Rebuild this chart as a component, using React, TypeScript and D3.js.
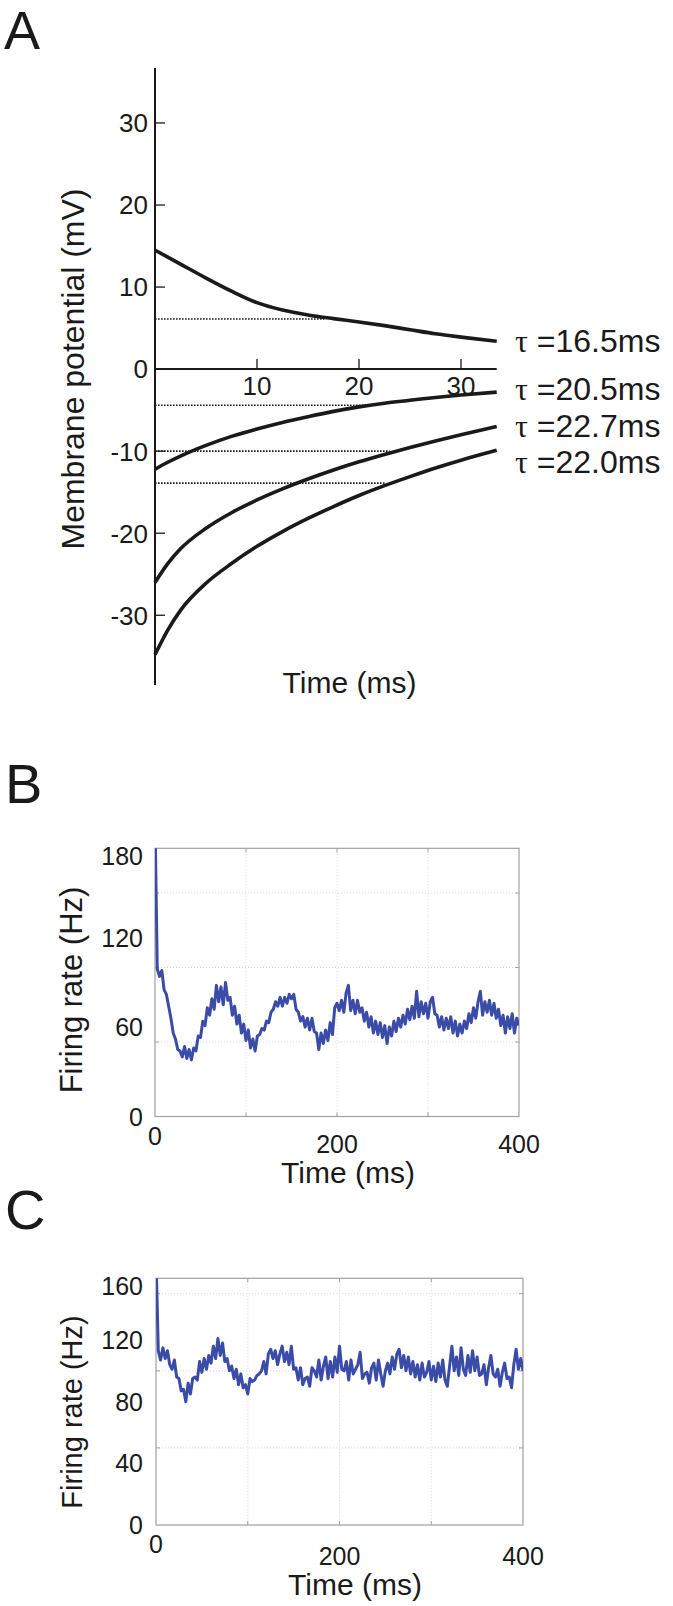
import React from 'react';
import * as d3 from 'd3';

// ---------- Panel A data ----------
const A_TIME = [0, 1.25, 2.5, 5, 7.5, 10, 12.5, 15, 17.5, 20, 22.5, 25, 27.5, 30, 33.5];
const A_CURVE_TAU165 = [14.5, 13.65, 12.8, 11.1, 9.5, 8.1, 7.2, 6.6, 6.15, 5.75, 5.3, 4.8, 4.3, 3.9, 3.4];
const A_CURVE_TAU205 = [-12.2, -11.35, -10.6, -9.3, -8.2, -7.3, -6.5, -5.8, -5.15, -4.6, -4.15, -3.8, -3.45, -3.15, -2.8];
const A_CURVE_TAU227 = [-26.0, -23.7, -21.9, -19.4, -17.5, -15.95, -14.6, -13.4, -12.3, -11.3, -10.4, -9.55, -8.75, -8.0, -7.0];
const A_CURVE_TAU220 = [-34.8, -31.8, -29.4, -26.1, -23.7, -21.6, -19.8, -18.2, -16.75, -15.4, -14.2, -13.1, -12.05, -11.1, -9.9];
const A_TAU_TEXT = ['16.5', '20.5', '22.7', '22.0'];
const A_REF_LEVEL = [6.1, -4.4, -10.0, -13.9];
const A_REF_END = [16.6, 20.7, 23.0, 22.5];
const A_Y_TICKS = [30, 20, 10, 0, -10, -20, -30];
const A_X_TICKS = [10, 20, 30];

// ---------- Panels B / C data (sampled every 2.5 ms, 0..400 ms) ----------
const SAMPLE_STEP_MS = 2.5;
const B_RATE = [
  200, 99, 94, 98, 85, 82, 74, 66, 56, 52,
  45, 44, 40, 47, 39, 45, 38, 46, 44, 54,
  53, 64, 61, 73, 68, 79, 72, 88, 77, 87,
  75, 90, 78, 80, 68, 74, 62, 68, 56, 62,
  51, 58, 46, 52, 44, 54, 55, 59, 58, 64,
  63, 70, 72, 77, 74, 80, 74, 80, 76, 82,
  79, 82, 72, 70, 64, 67, 60, 66, 58, 66,
  57, 56, 45, 56, 49, 58, 51, 63, 55, 73,
  76, 71, 78, 70, 83, 88, 71, 78, 69, 78,
  70, 73, 64, 70, 60, 67, 56, 64, 55, 63,
  53, 61, 49, 60, 54, 64, 57, 66, 60, 68,
  62, 72, 65, 74, 66, 84, 67, 77, 69, 76,
  66, 77, 80, 69, 68, 60, 67, 58, 66, 59,
  67, 56, 64, 54, 62, 56, 64, 59, 69, 63,
  73, 66, 77, 84, 68, 77, 70, 78, 68, 76,
  66, 72, 61, 68, 56, 67, 59, 69, 56, 66,
  61,
];
const C_RATE = [
  175, 113, 107, 115, 108, 113, 104, 101, 107, 96,
  95, 87, 88, 80, 92, 85, 95, 96, 94, 106,
  99, 108, 101, 110, 105, 116, 108, 121, 110, 118,
  106, 108, 100, 103, 95, 101, 91, 98, 89, 91,
  85, 95, 93, 94, 97, 98, 100, 106, 98, 111,
  114, 108, 113, 104, 111, 116, 106, 112, 104, 116,
  101, 102, 94, 102, 91, 95, 96, 90, 102, 100,
  96, 107, 94, 103, 109, 95, 106, 96, 109, 99,
  116, 101, 100, 106, 94, 107, 98, 101, 104, 112,
  95, 98, 99, 92, 102, 105, 94, 107, 98, 90,
  100, 105, 98, 109, 101, 111, 114, 102, 110, 100,
  109, 98, 106, 96, 104, 94, 105, 96, 99, 106,
  94, 103, 93, 105, 96, 107, 94, 90, 103, 116,
  100, 109, 97, 115, 101, 97, 110, 99, 113, 100,
  109, 97, 98, 104, 91, 102, 110, 98, 96, 101,
  90, 99, 105, 95, 96, 89, 104, 114, 101, 108,
  100,
];
const B_Y_LABELS = [0, 60, 120, 180];
const C_Y_LABELS = [0, 40, 80, 120, 160];
const GRID_Y = [50, 100, 150];
const GRID_X = [100, 200, 300];
const X_LABELS = [0, 200, 400];

const FONT = "'Liberation Sans', Arial, Helvetica, sans-serif";
const INK = '#1a1a1a';
const TRACE = '#3a4ca8';

function PanelA() {
  const x = d3.scaleLinear().domain([0, 33.5]).range([155, 496.7]);
  const y = d3.scaleLinear().domain([-38.5, 36.7]).range([685, 68]);
  const line = d3
    .line<number>()
    .x((_, i) => x(A_TIME[i]))
    .y((d) => y(d))
    .curve(d3.curveMonotoneX);
  const curves = [A_CURVE_TAU165, A_CURVE_TAU205, A_CURVE_TAU227, A_CURVE_TAU220];
  const labelDy = [11, 8, 10, 23];
  return (
    <g fontFamily={FONT} fill={INK}>
      <text x={4} y={49} fontSize={54}>A</text>
      {/* reference dotted lines */}
      {A_REF_LEVEL.map((v, i) => (
        <line key={'r' + i} x1={x(0)} x2={x(A_REF_END[i])} y1={y(v)} y2={y(v)}
          stroke={INK} strokeWidth={1.6} strokeDasharray="1.6 1.4" />
      ))}
      {/* axes */}
      <line x1={x(0)} x2={x(0)} y1={68} y2={685} stroke={INK} strokeWidth={2} />
      <line x1={x(0)} x2={x(33.5)} y1={y(0)} y2={y(0)} stroke={INK} strokeWidth={2} />
      {A_Y_TICKS.map((t) => (
        <g key={'yt' + t}>
          {t !== 0 && <line x1={x(0)} x2={x(0) + 10} y1={y(t)} y2={y(t)} stroke={INK} strokeWidth={1.3} />}
          <text x={148} y={y(t)} dy="0.36em" textAnchor="end" fontSize={26}>{t}</text>
        </g>
      ))}
      {A_X_TICKS.map((t) => (
        <g key={'xt' + t}>
          <line x1={x(t)} x2={x(t)} y1={y(0)} y2={y(0) - 10} stroke={INK} strokeWidth={1.3} />
          <text x={x(t)} y={395} textAnchor="middle" fontSize={26}>{t}</text>
        </g>
      ))}
      {curves.map((c, i) => (
        <path key={'c' + i} d={line(c) || ''} fill="none" stroke={INK} strokeWidth={3.6} />
      ))}
      {curves.map((c, i) => (
        <text key={'l' + i} x={515} y={y(c[c.length - 1]) + labelDy[i]} fontSize={32}>
          <tspan fontFamily="'Liberation Serif', 'DejaVu Serif', serif">τ</tspan>
          <tspan> =</tspan>
          <tspan>{A_TAU_TEXT[i]}ms</tspan>
        </text>
      ))}
      <text x={349.5} y={693} textAnchor="middle" fontSize={30}>Time (ms)</text>
      <text transform="translate(84,369) rotate(-90)" textAnchor="middle" fontSize={32}>
        Membrane potential (mV)
      </text>
    </g>
  );
}

type RateProps = {
  id: string;
  letter: string;
  letterY: number;
  data: number[];
  yMax: number;
  yLabels: number[];
  left: number;
  right: number;
  top: number;
  bottom: number;
  zeroXLabelY: number;
  xLabelY: number;
  titleX: number;
  titleY: number;
  yTitleY: number;
  yTitleSize: number;
};

function RatePanel(p: RateProps) {
  const x = d3.scaleLinear().domain([0, 400]).range([p.left, p.right]);
  const y = d3.scaleLinear().domain([0, p.yMax]).range([p.bottom, p.top]);
  const line = d3
    .line<number>()
    .x((_, i) => x(i * SAMPLE_STEP_MS))
    .y((d) => y(d));
  const tick = 4;
  const gray = '#a0a0a0';
  return (
    <g fontFamily={FONT} fill={INK}>
      <defs>
        <clipPath id={p.id}>
          <rect x={p.left} y={p.top} width={p.right - p.left} height={p.bottom - p.top} />
        </clipPath>
      </defs>
      <text x={5} y={p.letterY} fontSize={56}>{p.letter}</text>
      {GRID_Y.map((g) => (
        <g key={'gy' + g}>
          <line x1={p.left} x2={p.right} y1={y(g)} y2={y(g)} stroke="#d2d2d2" strokeWidth={0.9} strokeDasharray="1 2" />
          <line x1={p.left} x2={p.left + tick} y1={y(g)} y2={y(g)} stroke={gray} strokeWidth={1} />
          <line x1={p.right} x2={p.right - tick} y1={y(g)} y2={y(g)} stroke={gray} strokeWidth={1} />
        </g>
      ))}
      {GRID_X.map((g) => (
        <g key={'gx' + g}>
          <line x1={x(g)} x2={x(g)} y1={p.top} y2={p.bottom} stroke="#d2d2d2" strokeWidth={0.9} strokeDasharray="1 2" />
          <line x1={x(g)} x2={x(g)} y1={p.bottom} y2={p.bottom - tick} stroke={gray} strokeWidth={1} />
          <line x1={x(g)} x2={x(g)} y1={p.top} y2={p.top + tick} stroke={gray} strokeWidth={1} />
        </g>
      ))}
      <rect x={p.left} y={p.top} width={p.right - p.left} height={p.bottom - p.top}
        fill="none" stroke={gray} strokeWidth={1.2} />
      <path d={line(p.data) || ''} fill="none" stroke={TRACE} strokeWidth={3}
        strokeLinejoin="round" clipPath={`url(#${p.id})`} />
      {p.yLabels.map((v) => {
        const cy = Math.max(y(v), p.top + 8);
        return (
          <text key={'yl' + v} x={143} y={cy} dy="0.36em" textAnchor="end" fontSize={25}>{v}</text>
        );
      })}
      {X_LABELS.map((v) => (
        <text key={'xl' + v} x={x(v)} y={v === 0 ? p.zeroXLabelY : p.xLabelY} textAnchor="middle" fontSize={25}>{v}</text>
      ))}
      <text x={p.titleX} y={p.titleY} textAnchor="middle" fontSize={30}>Time (ms)</text>
      <text transform={`translate(82,${p.yTitleY}) rotate(-90)`} textAnchor="middle" fontSize={p.yTitleSize}>
        Firing rate (Hz)
      </text>
    </g>
  );
}

export default function App() {
  return (
    <svg width={673} height={1606} style={{ position: 'absolute', left: 0, top: 0, background: '#fff' }}>
      <rect x={0} y={0} width={673} height={1606} fill="#fff" />
      <PanelA />
      <RatePanel id="clipB" letter="B" letterY={803} data={B_RATE} yMax={180} yLabels={B_Y_LABELS}
        left={155} right={519} top={848.3} bottom={1116.5}
        zeroXLabelY={1145} xLabelY={1153} titleX={348} titleY={1183} yTitleY={990} yTitleSize={31} />
      <RatePanel id="clipC" letter="C" letterY={1229} data={C_RATE} yMax={160} yLabels={C_Y_LABELS}
        left={156} right={523} top={1278.3} bottom={1525}
        zeroXLabelY={1553} xLabelY={1565} titleX={355} titleY={1595} yTitleY={1412} yTitleSize={29} />
    </svg>
  );
}
